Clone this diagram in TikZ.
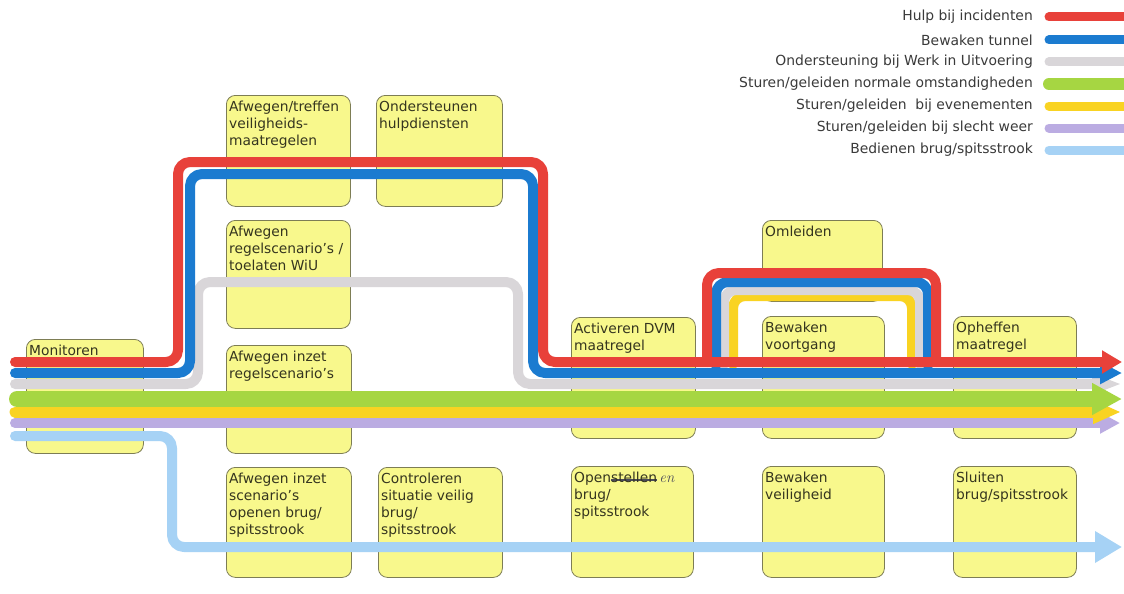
\documentclass[tikz,border=0pt]{standalone}
\usepackage{fontspec}
\setmainfont{DejaVu Sans}
\usetikzlibrary{arrows.meta}

\definecolor{boxfill}{HTML}{F8F88C}
\definecolor{boxedge}{HTML}{7D7D55}
\definecolor{boxtxt}{HTML}{35351F}
\definecolor{legtxt}{HTML}{3A3A3A}
\definecolor{cred}{HTML}{E8413A}
\definecolor{cblue}{HTML}{1B7BD0}
\definecolor{cgray}{HTML}{D9D6D9}
\definecolor{cgreen}{HTML}{A6D642}
\definecolor{cyellow}{HTML}{F9D322}
\definecolor{cpurple}{HTML}{BBACE2}
\definecolor{clblue}{HTML}{A6D2F5}
\definecolor{pen}{HTML}{4A4A5A}

% a word struck through by hand
\newsavebox{\strikebox}
\newcommand{\struckword}[1]{%
  \sbox{\strikebox}{#1}%
  \rlap{\textcolor{pen}{\raisebox{0.2ex}{\rule{\wd\strikebox}{0.8pt}}}}%
  \rlap{\textcolor{pen}{\raisebox{0.45ex}{\rule{\wd\strikebox}{0.6pt}}}}%
  \usebox{\strikebox}}

% one activity card: name, left x, top y, width, height, text
\newcommand{\stepcard}[6]{%
  \node[card, minimum width=#4pt, minimum height=#5pt] (#1) at (#2,#3) {};
  \node[cardtext] (#1t) at ([shift={(3,6)}]#1.north west) {#6};
}

\begin{document}
\begin{tikzpicture}[x=1pt,y=-1pt,
  card/.style={draw=boxedge, fill=boxfill, rounded corners=9pt, line width=0.8pt,
    anchor=north west, inner sep=0pt},
  cardtext/.style={anchor=north west, align=left, inner sep=0pt,
    font=\fontsize{13.8}{17}\selectfont, text=boxtxt},
  route/.style={line cap=round, line join=round, rounded corners=12pt, line width=10pt},
  legtext/.style={anchor=east, inner sep=0pt, font=\fontsize{13.9}{16}\selectfont, text=legtxt},
  legline/.style={line cap=round, line width=9pt}
]
\useasboundingbox (0,0) rectangle (1124,594);
\fill[white] (0,0) rectangle (1124,594);

% ---- activity cards ----
\stepcard{mon}{26}{339}{117}{114}{Monitoren}
\stepcard{veil}{226}{95}{124}{111}{Afwegen/treffen\\veiligheids-\\maatregelen}
\stepcard{wiu}{226}{220}{124}{108}{Afwegen\\regelscenario's /\\toelaten WiU}
\stepcard{inzet}{226}{345}{125}{108}{Afwegen inzet\\regelscenario's}
\stepcard{brug}{226}{467}{125}{110}{Afwegen inzet\\scenario's\\openen brug/\\spitsstrook}
\stepcard{hulp}{376}{95}{126}{111}{Ondersteunen\\hulpdiensten}
\stepcard{contr}{378}{467}{124}{110}{Controleren\\situatie veilig\\brug/\\spitsstrook}
\stepcard{dvm}{571}{317}{124}{121}{Activeren DVM\\maatregel}
\stepcard{open}{571}{466}{122}{111}{Open\struckword{stellen}\,{\fontfamily{lmr}\selectfont\itshape\fontsize{15}{17}\selectfont\color{pen}en}\\brug/\\spitsstrook}
\stepcard{oml}{762}{220}{120}{81}{Omleiden}
\stepcard{voort}{762}{316}{122}{122}{Bewaken\\voortgang}
\stepcard{veilh}{762}{466}{122}{111}{Bewaken\\veiligheid}
\stepcard{ophef}{953}{316}{123}{122}{Opheffen\\maatregel}
\stepcard{sluit}{953}{466}{123}{111}{Sluiten\\brug/spitsstrook}

% ---- detour loops around Omleiden (ending under the main lines) ----
\draw[route, cyellow] (733,364) -- (733,296) -- (912,296) -- (912,364);
\draw[route, cgray]   (724,364) -- (724,290) -- (920,290) -- (920,364);
\draw[route, cblue]   (716,366) -- (716,282) -- (928,282) -- (928,366);
\draw[route, cred]    (707,362) -- (707,273) -- (936,273) -- (936,362);

% ---- main routes ----
\draw[route, clblue, -{Triangle[length=27pt,width=30pt]}]
  (15,436) -- (172,436) -- (172,547) -- (1122,547);
\draw[route, cpurple, -{Triangle[length=20pt,width=20pt]}]
  (15,423) -- (1120,423);
\draw[route, cyellow, line width=11pt, -{Triangle[length=28pt,width=22pt]}]
  (15,412) -- (1121,412);
\draw[route, cgray, -{Triangle[length=30pt,width=19pt]}]
  (15,384) -- (198,384) -- (198,282) -- (518,282) -- (518,384) -- (1122,384);
\draw[route, cgreen, line width=16pt, -{Triangle[length=30pt,width=30pt]}]
  (17,399) -- (1122,399);
\draw[route, cblue, -{Triangle[length=22pt,width=21pt]}]
  (15,373) -- (190,373) -- (190,174) -- (533,174) -- (533,373) -- (1122,373);
\draw[route, cred, -{Triangle[length=20pt,width=22pt]}]
  (15,362) -- (178,362) -- (178,162) -- (543,162) -- (543,362) -- (1122,362);

% ---- legend ----
\foreach \ypos/\col/\txt/\lw in {
  17/cred/{Hulp bij incidenten}/9,
  40/cblue/{Bewaken tunnel}/9,
  62/cgray/{Ondersteuning bij Werk in Uitvoering}/9,
  84/cgreen/{Sturen/geleiden normale omstandigheden}/12,
  106/cyellow/{Sturen/geleiden\ \ bij evenementen}/9,
  128/cpurple/{Sturen/geleiden bij slecht weer}/9,
  150/clblue/{Bedienen brug/spitsstrook}/9} {
  \node[legtext] (leg\ypos) at (1033,\ypos) {\txt};
  \draw[legline, \col, line width=\lw pt] (1049,\ypos) -- (1135,\ypos);
}
\end{tikzpicture}
\end{document}
